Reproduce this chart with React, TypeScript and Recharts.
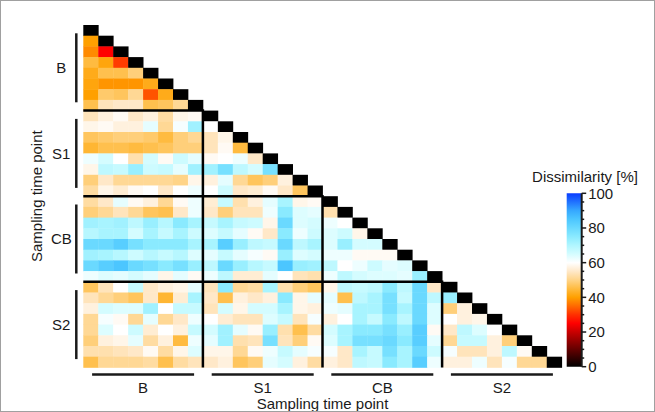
import React from 'react'
import { ScatterChart, Scatter, XAxis, YAxis, BarChart, Bar } from 'recharts'

// group labels + where they sit on the 32x32 grid
const GROUPS = ['B', 'S1', 'CB', 'S2']
const GROUP_CENTERS = [4, 12, 20, 28]
const GROUP_BOUNDS = [8, 16, 24]
const N = 32

// colour bar ticks (labels every 20, minor every 5)
const CB_TICKS = [0, 5, 10, 15, 20, 25, 30, 35, 40, 45, 50, 55, 60, 65, 70, 75, 80, 85, 90, 95, 100]
const CB_DATA = [{ k: 'cb', v: 100 }]

// lower triangle of the dissimilarity matrix [%], one array per row (diagonal excluded)
const ROWS_B = [
  [],
  [40],
  [38, 25],
  [45, 41, 31],
  [42, 46, 46, 49],
  [41, 39, 39, 39, 42],
  [40, 48, 47, 51, 33, 42],
  [46, 54, 55, 55, 46, 47, 51],
]
const ROWS_S1 = [
  [54, 57, 59, 55, 57, 52, 58, 59],
  [58, 59, 57, 57, 63, 51, 61, 72, 60],
  [47, 48, 49, 49, 48, 45, 49, 51, 54, 58],
  [44, 46, 46, 45, 46, 47, 49, 49, 54, 59, 45],
  [62, 65, 60, 53, 65, 59, 66, 63, 59, 60, 62, 55],
  [58, 68, 67, 73, 66, 67, 63, 72, 72, 78, 68, 65, 78],
  [49, 55, 51, 51, 51, 51, 50, 58, 57, 63, 51, 47, 49, 57],
  [52, 58, 56, 59, 60, 55, 60, 62, 60, 66, 55, 56, 59, 55, 47],
]
const ROWS_CB = [
  [52, 55, 63, 59, 57, 51, 59, 62, 56, 67, 53, 57, 63, 71, 58, 59],
  [49, 51, 54, 51, 47, 46, 55, 62, 55, 49, 54, 54, 62, 75, 64, 63, 53],
  [72, 71, 72, 68, 73, 69, 75, 71, 67, 71, 67, 66, 58, 80, 64, 65, 62, 60],
  [69, 71, 71, 65, 71, 67, 71, 66, 64, 67, 63, 59, 55, 75, 62, 66, 64, 66, 58],
  [80, 80, 83, 78, 75, 75, 75, 71, 71, 83, 73, 68, 67, 80, 68, 71, 64, 73, 65, 65],
  [72, 71, 69, 66, 69, 67, 69, 64, 63, 67, 63, 61, 59, 73, 64, 65, 62, 62, 59, 59, 59],
  [80, 83, 85, 80, 78, 75, 78, 73, 68, 80, 73, 69, 67, 85, 73, 72, 68, 60, 62, 66, 63, 64],
  [62, 64, 63, 65, 63, 58, 63, 59, 62, 68, 56, 56, 63, 60, 54, 53, 62, 68, 65, 64, 64, 63, 73],
]
const ROWS_S2 = [
  [47, 54, 60, 67, 55, 57, 58, 63, 54, 75, 51, 52, 71, 53, 49, 47, 58, 68, 67, 68, 75, 68, 80, 55],
  [54, 51, 49, 47, 55, 44, 56, 71, 55, 46, 57, 55, 57, 75, 58, 63, 63, 46, 68, 71, 78, 67, 80, 68, 73],
  [57, 65, 64, 64, 72, 60, 67, 67, 54, 65, 58, 65, 65, 71, 58, 57, 62, 63, 71, 71, 78, 71, 80, 64, 49, 57],
  [51, 61, 59, 51, 63, 51, 55, 62, 60, 56, 54, 54, 64, 67, 54, 61, 57, 60, 71, 67, 75, 68, 80, 64, 60, 57, 58],
  [51, 64, 60, 66, 56, 60, 57, 67, 65, 72, 63, 59, 73, 53, 46, 52, 65, 71, 75, 75, 78, 73, 83, 59, 55, 68, 64, 60],
  [49, 57, 58, 63, 52, 57, 45, 62, 63, 72, 53, 54, 78, 54, 49, 59, 64, 71, 78, 78, 80, 75, 83, 63, 51, 67, 67, 57, 49],
  [53, 53, 54, 55, 59, 52, 58, 64, 58, 58, 51, 59, 62, 67, 63, 61, 61, 55, 71, 67, 78, 71, 80, 66, 61, 54, 54, 57, 68, 59],
  [46, 51, 51, 51, 52, 46, 52, 54, 55, 57, 47, 49, 63, 65, 57, 52, 57, 55, 68, 67, 75, 71, 83, 62, 57, 57, 62, 54, 61, 51, 51],
]

const ROWS = [...ROWS_B, ...ROWS_S1, ...ROWS_CB, ...ROWS_S2]

const COLOR_STOPS: [number, string][] = [
  [0, '#000000'],
  [10, '#640000'],
  [20, '#c80000'],
  [25, '#ff0000'],
  [30, '#ff3000'],
  [35, '#ff6a00'],
  [40, '#ffa000'],
  [45, '#ffbb40'],
  [50, '#ffd488'],
  [55, '#ffe8c8'],
  [60, '#ffffff'],
  [65, '#d4fcff'],
  [70, '#b0f6ff'],
  [75, '#8aeaff'],
  [80, '#6ad9ff'],
  [85, '#4cc6ff'],
  [90, '#36a8ff'],
  [100, '#0a3cff'],
]

function hexToRgb(h: string) {
  return [1, 3, 5].map((i) => parseInt(h.slice(i, i + 2), 16))
}

function colorFor(v: number) {
  for (let i = 1; i < COLOR_STOPS.length; i++) {
    const [v1, c1] = COLOR_STOPS[i]
    if (v <= v1) {
      const [v0, c0] = COLOR_STOPS[i - 1]
      const t = (v - v0) / (v1 - v0)
      const a = hexToRgb(c0)
      const b = hexToRgb(c1)
      const rgb = a.map((x, k) => Math.round(x + (b[k] - x) * t))
      return `rgb(${rgb.join(',')})`
    }
  }
  return COLOR_STOPS[COLOR_STOPS.length - 1][1]
}

const W = 655
const H = 412
const PLOT = { left: 83.3, top: 25, right: 561.7, bottom: 367.4 }
const CELL_W = (PLOT.right - PLOT.left) / N
const CELL_H = (PLOT.bottom - PLOT.top) / N
const FONT = '"Liberation Sans", Arial, sans-serif'
const INK = '#1a1a1a'

const cells: { x: number; y: number; v: number | null }[] = []
ROWS.forEach((row, r) => {
  row.forEach((v, c) => cells.push({ x: c + 0.5, y: r + 0.5, v }))
  cells.push({ x: r + 0.5, y: r + 0.5, v: null }) // diagonal
})

// L-shaped separator for each group boundary: left edge -> boundary -> bottom
const separators = GROUP_BOUNDS.map((b) => [
  { x: 0, y: b },
  { x: b, y: b },
  { x: b, y: N },
])

function CellShape(props: any) {
  const { cx, cy, payload } = props
  const fill = payload.v == null ? '#000' : colorFor(payload.v)
  return (
    <rect
      x={cx - CELL_W / 2}
      y={cy - CELL_H / 2}
      width={CELL_W + 0.4}
      height={CELL_H + 0.4}
      fill={fill}
    />
  )
}

const NoPoint = () => <g />

function GroupTickX({ x, y, payload }: any) {
  const label = GROUPS[GROUP_CENTERS.indexOf(payload.value)]
  return (
    <g>
      <line x1={x - 51} x2={x + 51} y1={y + 7} y2={y + 7} stroke={INK} strokeWidth={2.5} />
      <text x={x} y={y + 26} textAnchor="middle" fontSize={15} fill={INK} fontFamily={FONT}>
        {label}
      </text>
    </g>
  )
}

function GroupTickY({ x, y, payload }: any) {
  const label = GROUPS[GROUP_CENTERS.indexOf(payload.value)]
  return (
    <g>
      <line x1={x - 7} x2={x - 7} y1={y - 34.5} y2={y + 34.5} stroke={INK} strokeWidth={2.5} />
      <text x={x - 22} y={y} dy="0.36em" textAnchor="middle" fontSize={15} fill={INK} fontFamily={FONT}>
        {label}
      </text>
    </g>
  )
}

function CbTick({ x, y, payload }: any) {
  const v = payload.value
  const major = v % 20 === 0
  return (
    <g>
      <line x1={x} x2={x + (major ? 4.5 : 2.5)} y1={y} y2={y} stroke={INK} strokeWidth={1.5} />
      {major && (
        <text x={x + 6.5} y={y} dy="0.36em" fontSize={15} fill={INK} fontFamily={FONT}>
          {v}
        </text>
      )}
    </g>
  )
}

const layer: React.CSSProperties = { position: 'absolute', left: 0, top: 0 }

export default function App() {
  return (
    <div style={{ position: 'absolute', left: 0, top: 0, width: W, height: H, background: '#fff', fontFamily: FONT }}>
      {/* matrix cells + group axes */}
      <div style={layer}>
        <ScatterChart
          width={W}
          height={H}
          margin={{ top: PLOT.top, right: W - PLOT.right, bottom: 0, left: 8 }}
        >
          <XAxis
            type="number"
            dataKey="x"
            domain={[0, N]}
            ticks={GROUP_CENTERS}
            interval={0}
            height={H - PLOT.bottom}
            axisLine={false}
            tickLine={false}
            tickSize={0}
            tickMargin={0}
            tick={<GroupTickX />}
            label={{
              value: 'Sampling time point',
              content: (p: any) => (
                <text
                  x={p.viewBox.x + p.viewBox.width / 2}
                  y={p.viewBox.y + 42}
                  textAnchor="middle"
                  fontSize={15}
                  fill={INK}
                  fontFamily={FONT}
                >
                  Sampling time point
                </text>
              ),
            }}
          />
          <YAxis
            type="number"
            dataKey="y"
            domain={[0, N]}
            reversed
            ticks={GROUP_CENTERS}
            interval={0}
            width={PLOT.left - 8}
            axisLine={false}
            tickLine={false}
            tickSize={0}
            tickMargin={0}
            tick={<GroupTickY />}
            label={{
              value: 'Sampling time point',
              content: (p: any) => {
                const cx = p.viewBox.x + 29
                const cy = p.viewBox.y + p.viewBox.height / 2
                return (
                  <text
                    x={cx}
                    y={cy}
                    transform={`rotate(-90 ${cx} ${cy})`}
                    textAnchor="middle"
                    dy="0.36em"
                    fontSize={15}
                    fill={INK}
                    fontFamily={FONT}
                  >
                    Sampling time point
                  </text>
                )
              },
            }}
          />
          <Scatter data={cells} shape={<CellShape />} isAnimationActive={false} />
          {separators.map((seg, i) => (
            <Scatter
              key={i}
              data={seg}
              line={{ stroke: '#000', strokeWidth: 2.5 }}
              lineType="joint"
              shape={<NoPoint />}
              isAnimationActive={false}
            />
          ))}
        </ScatterChart>
      </div>

      {/* colour bar */}
      <div style={layer}>
        <BarChart
          width={W}
          height={H}
          data={CB_DATA}
          margin={{ top: 193.3, right: W - 581.7 - 40, bottom: H - 366.7, left: 566.7 }}
          barCategoryGap={0}
        >
          <defs>
            <linearGradient id="cbGrad" x1="0" y1="1" x2="0" y2="0">
              {COLOR_STOPS.map(([v, c]) => (
                <stop key={v} offset={v / 100} stopColor={c} />
              ))}
            </linearGradient>
          </defs>
          <XAxis dataKey="k" hide />
          <YAxis
            type="number"
            orientation="right"
            domain={[0, 100]}
            ticks={CB_TICKS}
            interval={0}
            width={40}
            tickSize={0}
            tickMargin={0}
            axisLine={{ stroke: INK, strokeWidth: 2 }}
            tickLine={false}
            tick={<CbTick />}
            label={{
              value: 'Dissimilarity [%]',
              content: (p: any) => (
                <text x={585} y={p.viewBox.y - 11} textAnchor="middle" fontSize={15} fill={INK} fontFamily={FONT}>
                  Dissimilarity [%]
                </text>
              ),
            }}
          />
          <Bar dataKey="v" fill="url(#cbGrad)" isAnimationActive={false} />
        </BarChart>
      </div>

      <div
        style={{
          position: 'absolute',
          left: 0,
          top: 0,
          width: W,
          height: H,
          boxSizing: 'border-box',
          border: '1px solid #a0a0a0',
          pointerEvents: 'none',
        }}
      />
    </div>
  )
}
